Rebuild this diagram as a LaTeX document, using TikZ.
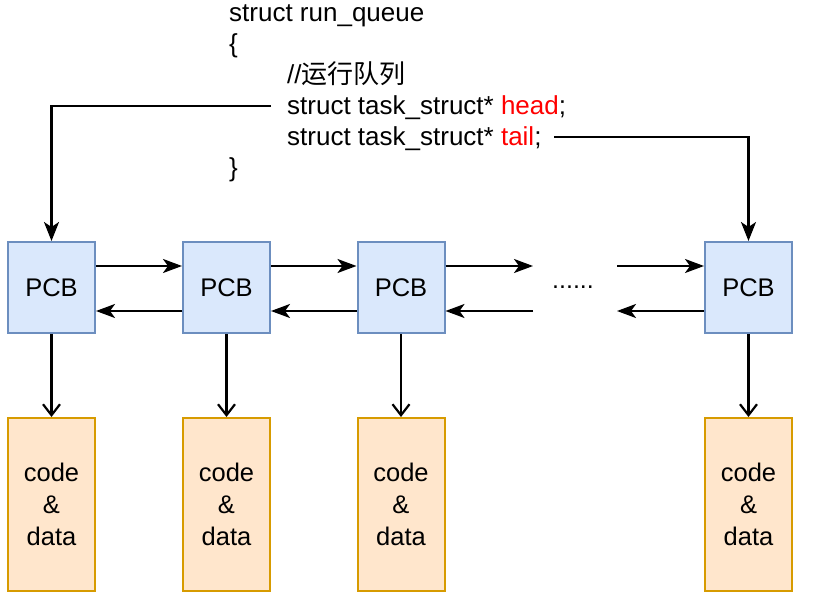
\documentclass[tikz,border=0pt]{standalone}
\usepackage{fontspec}
\setmainfont{Liberation Sans}
\newfontfamily\cjk{Noto Sans CJK SC}
\usetikzlibrary{arrows.meta}
\definecolor{pcbfill}{HTML}{DAE8FC}
\definecolor{pcbdraw}{HTML}{6C8EBF}
\definecolor{codefill}{HTML}{FFE6CC}
\definecolor{codedraw}{HTML}{D79B00}
\definecolor{kwred}{HTML}{FF0000}
\tikzset{
  pcbbox/.style={draw=pcbdraw, fill=pcbfill, line width=2pt, minimum width=87pt, minimum height=91pt, inner sep=0pt, font=\fontsize{25.5}{30}\selectfont},
  codebox/.style={draw=codedraw, fill=codefill, line width=2pt, minimum width=87pt, minimum height=173pt, inner sep=0pt, align=center, font=\fontsize{25.5}{32}\selectfont},
  codeline/.style={anchor=base west, inner sep=0pt, font=\fontsize{26}{31}\selectfont},
  link/.style={line width=2.2pt, -{Stealth[length=19pt,width=14pt,inset=5pt]}},
  ptr/.style={line width=2.2pt, -{Stealth[length=19pt,width=15pt,inset=5pt]}},
  own/.style={line width=2.2pt, -{Straight Barb[length=11pt,width=17pt,line width=2.2pt]}}
}
\begin{document}
\begin{tikzpicture}[x=1pt,y=-1pt]
\useasboundingbox (0,0) rectangle (825,607);
% code text
\node[codeline] (l1) at (229,22) {struct run\_queue};
\node[codeline] (l2) at (229,53) {\{};
\node[codeline] (l3) at (287,84) {//{\cjk 运行队列}};
\node[codeline] (l4) at (287,115) {struct task\_struct* \textcolor{kwred}{head};};
\node[codeline] (l5) at (287,146) {struct task\_struct* \textcolor{kwred}{tail};};
\node[codeline] (l6) at (229,177) {\}};
% PCB boxes
\node[pcbbox] (p1) at (51.5,287.5) {PCB};
\node[pcbbox] (p2) at (226.5,287.5) {PCB};
\node[pcbbox] (p3) at (401,287.5) {PCB};
\node[pcbbox] (p4) at (748.5,287.5) {PCB};
% code boxes
\node[codebox] (c1) at (51.5,504.5) {code\\\&\\data};
\node[codebox] (c2) at (226.5,504.5) {code\\\&\\data};
\node[codebox] (c3) at (401,504.5) {code\\\&\\data};
\node[codebox] (c4) at (748.5,504.5) {code\\\&\\data};
% ellipsis
\node[inner sep=0pt, font=\fontsize{25}{28}\selectfont] (dots) at (573,287) {......};
\coordinate (fa) at (533,266);
\coordinate (fb) at (617,266);
\coordinate (ba) at (533,311);
\coordinate (bb) at (617,311);
\coordinate (h0) at (271,106);
\coordinate (t0) at (554,137);
% forward links
\draw[link] ([yshift=21.5pt]p1.east) -- ([yshift=21.5pt]p2.west);
\draw[link] ([yshift=21.5pt]p2.east) -- ([yshift=21.5pt]p3.west);
\draw[link] ([yshift=21.5pt]p3.east) -- (fa);
\draw[link] (fb) -- ([yshift=21.5pt]p4.west);
% backward links
\draw[link] ([yshift=-23.5pt]p2.west) -- ([yshift=-23.5pt]p1.east);
\draw[link] ([yshift=-23.5pt]p3.west) -- ([yshift=-23.5pt]p2.east);
\draw[link] (ba) -- ([yshift=-23.5pt]p3.east);
\draw[link] ([yshift=-23.5pt]p4.west) -- (bb);
% head / tail pointers
\draw[ptr] (h0) -| (p1.north);
\draw[ptr] (t0) -| (p4.north);
% PCB to code
\draw[own] (p1.south) -- (c1.north);
\draw[own] (p2.south) -- (c2.north);
\draw[own] (p3.south) -- (c3.north);
\draw[own] (p4.south) -- (c4.north);
\end{tikzpicture}
\end{document}
